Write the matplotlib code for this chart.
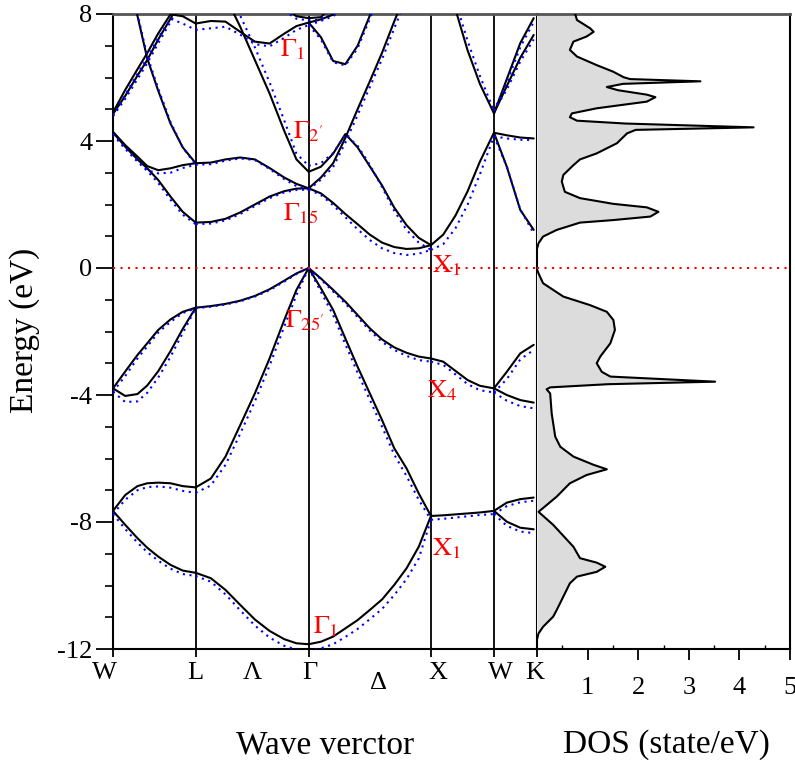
import numpy as np
import matplotlib.pyplot as plt
from matplotlib.ticker import MultipleLocator, FixedLocator

plt.rcParams['font.family'] = ['Liberation Serif', 'DejaVu Serif']
plt.rcParams['mathtext.fontset'] = 'stix'

# high symmetry points along the path W-L-G-X-W-K
sym_k = [0.0, 0.676, 1.60, 2.60, 3.115, 3.467]

# ---- band energies (eV), solid = black, dot = blue dotted ----
k_wl = [0.0, 0.10, 0.20, 0.28, 0.37, 0.47, 0.57, 0.676]
wl_solid = [
    [-7.65, -8.09, -8.51, -8.81, -9.09, -9.35, -9.53, -9.60],
    [-7.65, -7.15, -6.87, -6.78, -6.76, -6.78, -6.87, -6.91],
    [-3.79, -3.26, -2.74, -2.37, -1.95, -1.62, -1.38, -1.25],
    [-3.79, -4.03, -3.97, -3.70, -3.25, -2.62, -1.92, -1.25],
    [4.27, 3.82, 3.42, 3.14, 2.77, 2.25, 1.77, 1.43],
    [4.29, 3.87, 3.51, 3.21, 3.08, 3.14, 3.24, 3.30],
    [4.90, 5.61, 6.26, 6.77, 7.39, 7.99, 7.93, 7.70],
]
wl_dot = [
    [-7.75, -8.22, -8.65, -8.95, -9.22, -9.47, -9.64, -9.70],
    [-7.75, -7.30, -7.00, -6.90, -6.88, -6.92, -7.02, -7.08],
    [-3.90, -3.40, -2.85, -2.47, -2.03, -1.70, -1.42, -1.27],
    [-3.90, -4.22, -4.20, -3.93, -3.45, -2.80, -2.05, -1.27],
    [4.20, 3.75, 3.35, 3.06, 2.68, 2.15, 1.68, 1.38],
    [4.22, 3.80, 3.40, 3.08, 2.98, 3.00, 3.15, 3.25],
    [4.80, 5.45, 6.12, 6.62, 7.25, 7.85, 7.70, 7.50],
]

k_lg = [0.676, 0.80, 0.92, 1.04, 1.16, 1.28, 1.40, 1.50, 1.60]
lg_solid = [
    [-9.60, -9.77, -10.14, -10.61, -11.07, -11.43, -11.69, -11.82, -11.85],
    [-6.91, -6.63, -5.94, -4.95, -3.95, -2.85, -1.64, -0.69, 0.0],
    [-1.25, -1.20, -1.13, -1.03, -0.88, -0.67, -0.40, -0.17, 0.0],
    [1.43, 1.45, 1.55, 1.75, 2.00, 2.25, 2.42, 2.50, 2.51],
    [3.30, 3.32, 3.42, 3.48, 3.42, 3.15, 2.85, 2.65, 2.51],
    [7.70, 7.78, 7.76, 7.44, 7.13, 7.07, 7.38, 7.62, 7.73],
]
lg_dot = [
    [-9.70, -9.88, -10.28, -10.78, -11.26, -11.64, -11.90, -12.02, -12.05],
    [-7.08, -6.85, -6.20, -5.22, -4.20, -3.08, -1.85, -0.85, 0.0],
    [-1.27, -1.22, -1.15, -1.05, -0.90, -0.70, -0.43, -0.19, 0.0],
    [1.38, 1.40, 1.50, 1.70, 1.95, 2.20, 2.38, 2.46, 2.47],
    [3.25, 3.27, 3.38, 3.45, 3.40, 3.12, 2.80, 2.58, 2.47],
    [7.50, 7.55, 7.60, 7.35, 7.05, 6.98, 7.25, 7.50, 7.65],
]

k_gx = [1.60, 1.70, 1.80, 1.90, 2.00, 2.10, 2.20, 2.30, 2.40, 2.50, 2.60]
gx_solid = [
    [-11.85, -11.77, -11.61, -11.35, -11.09, -10.77, -10.44, -9.98, -9.46, -8.78, -7.81],
    [0.0, -0.64, -1.32, -2.22, -3.11, -3.95, -4.79, -5.68, -6.31, -7.10, -7.81],
    [0.0, -0.33, -0.69, -1.06, -1.48, -1.90, -2.25, -2.50, -2.67, -2.79, -2.85],
    [2.51, 2.35, 2.05, 1.70, 1.38, 1.05, 0.80, 0.66, 0.60, 0.62, 0.72],
    [3.03, 3.19, 3.60, 4.22, 3.80, 3.20, 2.60, 1.90, 1.35, 0.95, 0.72],
]
gx_dot = [
    [-12.05, -11.98, -11.85, -11.62, -11.37, -11.06, -10.74, -10.30, -9.80, -9.15, -7.93],
    [0.0, -0.75, -1.48, -2.40, -3.30, -4.15, -5.00, -5.88, -6.55, -7.30, -7.93],
    [0.0, -0.36, -0.74, -1.12, -1.55, -1.97, -2.33, -2.58, -2.77, -2.90, -2.95],
    [2.47, 2.30, 1.98, 1.60, 1.22, 0.88, 0.62, 0.47, 0.41, 0.45, 0.57],
    [3.22, 3.30, 3.62, 4.20, 3.85, 3.25, 2.55, 1.80, 1.20, 0.80, 0.57],
]

k_xw = [2.60, 2.70, 2.80, 2.90, 3.00, 3.115]
xw_solid = [
    [-7.81, -7.79, -7.76, -7.73, -7.70, -7.65],
    [-2.85, -2.95, -3.24, -3.53, -3.71, -3.79],
    [0.72, 1.05, 1.65, 2.42, 3.35, 4.26],
]
xw_dot = [
    [-7.93, -7.90, -7.86, -7.82, -7.78, -7.75],
    [-2.95, -3.05, -3.35, -3.66, -3.85, -3.92],
    [0.57, 0.75, 1.25, 2.00, 2.95, 4.15],
]

k_wk = [3.115, 3.22, 3.33, 3.44]
wk_solid = [
    [-7.65, -7.99, -8.18, -8.23],
    [-7.65, -7.39, -7.28, -7.23],
    [-3.79, -3.27, -2.69, -2.42],
    [-3.79, -4.00, -4.16, -4.24],
    [4.26, 3.19, 1.83, 1.20],
    [4.26, 4.18, 4.11, 4.08],
    [4.87, 5.95, 7.08, 7.87],
    [4.87, 5.73, 6.62, 7.34],
]
wk_dot = [
    [-7.75, -8.12, -8.30, -8.35],
    [-7.75, -7.50, -7.38, -7.33],
    [-3.92, -3.50, -2.88, -2.58],
    [-3.92, -4.18, -4.35, -4.42],
    [4.15, 3.20, 1.85, 1.09],
    [4.15, 4.08, 4.04, 4.03],
    [4.95, 5.85, 6.95, 7.75],
    [4.95, 5.62, 6.50, 7.20],
]

# pieces of bands that leave the window at the top
k_d = [0.17, 0.20, 0.28, 0.37, 0.47, 0.57, 0.676]
d_solid = [8.40, 7.94, 6.60, 5.58, 4.55, 3.80, 3.30]
d_dot = [8.45, 8.00, 6.68, 5.65, 4.60, 3.80, 3.25]
k_p2 = [0.0, 0.10, 0.20, 0.28, 0.37, 0.47, 0.57]
p2_solid = [4.85, 5.42, 6.06, 6.55, 7.20, 7.85, 8.60]
p2_dot = [4.78, 5.33, 5.95, 6.45, 7.08, 7.75, 8.50]
k_s = [0.92, 1.04, 1.16, 1.28, 1.40, 1.50, 1.60]
s_solid = [8.55, 7.60, 6.55, 5.50, 4.32, 3.42, 3.03]
s_dot = [8.70, 7.95, 6.95, 5.85, 4.65, 3.60, 3.22]
k_t = [1.40, 1.50, 1.60, 1.70, 1.80]
t_solid = [8.20, 7.93, 7.87, 7.90, 8.30]
t_dot = [8.10, 7.85, 7.80, 7.83, 8.20]
k_g1 = [1.60, 1.70, 1.80, 1.90]
g1_solid = [7.73, 7.83, 7.98, 8.20]
g1_dot = [7.65, 7.78, 7.93, 8.20]
k_g2 = [1.60, 1.70, 1.80, 1.90, 2.00, 2.10, 2.20]
g2_solid = [7.73, 7.27, 6.52, 6.42, 7.00, 7.95, 8.90]
g2_dot = [7.65, 7.20, 6.48, 6.38, 6.92, 7.85, 8.80]
k_s2 = [1.60, 1.70, 1.80, 1.90, 2.00, 2.10, 2.20, 2.30, 2.40]
s2_solid = [2.51, 2.85, 3.30, 4.10, 5.00, 5.88, 6.78, 7.77, 8.70]
s2_dot = [2.47, 2.78, 3.18, 3.95, 4.82, 5.70, 6.58, 7.55, 8.50]
k_v = [2.70, 2.80, 2.90, 3.00, 3.115]
v_solid = [9.50, 8.15, 6.85, 5.80, 4.87]
v_dot = [9.70, 8.40, 7.15, 6.05, 4.95]

# ---- density of states ----
dos_e = [8.02, 7.81, 7.55, 7.44, 7.29, 7.13, 6.87, 6.66, 6.39, 6.18, 6.01, 5.95,
         5.88, 5.80, 5.70, 5.60, 5.46, 5.38, 5.24, 5.03, 4.87, 4.75, 4.64, 4.55,
         4.43, 4.35, 4.24, 3.93, 3.61, 3.42, 3.24, 2.93, 2.72, 2.40, 2.20, 2.02,
         1.91, 1.77, 1.62, 1.51, 1.43, 1.20, 0.99, 0.78, 0.60, -0.05, -0.17, -0.48,
         -0.90, -1.17, -1.38, -1.64, -1.95, -2.37, -2.79, -3.00, -3.27, -3.42, -3.58,
         -3.66, -3.76, -3.82, -3.95, -4.58, -5.31, -5.63, -5.94, -6.20, -6.34, -6.52,
         -6.78, -7.20, -7.68, -8.09, -8.78, -9.14, -9.28, -9.41, -9.57, -9.72, -9.93,
         -10.35, -10.77, -10.98, -11.30, -11.51, -11.70, -12.0]
dos_v = [0.75, 0.79, 1.05, 1.12, 0.98, 0.72, 0.65, 0.79, 1.18, 1.51, 1.71, 1.84,
         3.23, 1.70, 1.38, 1.60, 2.17, 2.34, 2.17, 1.18, 0.69, 0.65, 0.79, 1.75,
         4.28, 1.95, 1.78, 1.58, 1.18, 0.85, 0.72, 0.52, 0.49, 0.55, 0.85, 1.51,
         2.17, 2.40, 2.24, 1.51, 0.85, 0.39, 0.12, 0.03, 0.0, 0.0, 0.03, 0.12,
         0.52, 1.05, 1.38, 1.51, 1.54, 1.45, 1.25, 1.18, 1.28, 1.45, 3.52,
         1.40, 0.26, 0.19, 0.26, 0.29, 0.36, 0.46, 0.72, 1.12, 1.38, 0.98,
         0.65, 0.39, 0.03, 0.32, 0.72, 0.85, 1.18, 1.35, 1.18, 0.79, 0.65,
         0.52, 0.39, 0.32, 0.12, 0.03, 0.0, 0.0]

# ---- figure ----
W, H = 795, 764
fig = plt.figure(figsize=(W / 100, H / 100), dpi=100)
ax = fig.add_axes([113 / W, 1 - 649 / H, 424 / W, 635 / H])
ax2 = fig.add_axes([537 / W, 1 - 649 / H, 253 / W, 635 / H])

solid_kw = dict(color='black', lw=1.5, zorder=3, solid_capstyle='round')
dot_kw = dict(color='blue', lw=1.5, linestyle=(0, (1, 2.2)), zorder=4)

segments = [(k_wl, wl_solid, wl_dot), (k_lg, lg_solid, lg_dot), (k_gx, gx_solid, gx_dot),
            (k_xw, xw_solid, xw_dot), (k_wk, wk_solid, wk_dot)]
for k, sol, dot in segments:
    for e in sol:
        ax.plot(k, e, **solid_kw)
    for e in dot:
        ax.plot(k, e, **dot_kw)

pieces = [(k_d, d_solid, d_dot), (k_p2, p2_solid, p2_dot), (k_s, s_solid, s_dot),
          (k_t, t_solid, t_dot), (k_g1, g1_solid, g1_dot), (k_g2, g2_solid, g2_dot),
          (k_s2, s2_solid, s2_dot), (k_v, v_solid, v_dot)]
for k, sol, dot in pieces:
    ax.plot(k, sol, **solid_kw)
    ax.plot(k, dot, **dot_kw)

for k in sym_k[1:-1]:
    ax.axvline(k, color='black', lw=1.3, zorder=2)

red_kw = dict(color='red', lw=1.5, linestyle=(0, (1, 2.6)), zorder=5)
ax.axhline(0, **red_kw)
ax2.axhline(0, **red_kw)

ax.set_xlim(sym_k[0], sym_k[-1])
ax.set_ylim(-12, 8)
ax.yaxis.set_major_locator(FixedLocator([-12, -8, -4, 0, 4, 8]))
ax.yaxis.set_minor_locator(MultipleLocator(1))
ax.set_yticklabels(['-12', '-8', '-4', '0', '4', '8'])
ax.tick_params(axis='y', which='major', direction='out', length=12, width=1.3,
               labelsize=19, pad=3)
ax.tick_params(axis='y', which='minor', direction='out', length=6, width=1.2)
ax.set_xticks(sym_k)
ax.set_xticklabels([])
ax.tick_params(axis='x', which='major', direction='out', length=6, width=1.3)

trans = ax.get_xaxis_transform()
tick_names = ['W', 'L', 'Λ', 'Γ', 'Δ', 'X', 'W', 'K']
tick_pos = [-0.07, 0.673, 1.139, 1.613, 2.169, 2.66, 3.167, 3.445]
for name, kx in zip(tick_names, tick_pos):
    yy = -0.036 if name == 'Δ' else -0.02
    ax.text(kx, yy, name, transform=trans, ha='center', va='top', fontsize=19)

red_labels = [(1.368, 6.65, r'$\Gamma_1$'), (1.474, 4.09, r"$\Gamma_{2'}$"),
              (1.392, 1.51, r'$\Gamma_{15}$'), (2.611, -0.13, r'$\mathrm{X}_1$'),
              (1.409, -1.86, r"$\Gamma_{25'}$"), (2.570, -4.06, r'$\mathrm{X}_4$'),
              (2.611, -9.04, r'$\mathrm{X}_1$'), (1.638, -11.50, r'$\Gamma_1$')]
for kx, ey, s in red_labels:
    ax.text(kx, ey, s, color='red', fontsize=19, ha='left', va='baseline', zorder=6)

ax2.fill_betweenx(dos_e, 0, dos_v, color='#dcdcdc', lw=0, zorder=1)
ax2.plot(dos_v, dos_e, color='black', lw=1.5, zorder=3)
ax2.set_xlim(0, 5)
ax2.set_ylim(-12, 8)
ax2.set_yticks([])
ax2.set_xticks([1, 2, 3, 4, 5])
ax2.xaxis.set_minor_locator(FixedLocator([0.5, 1.5, 2.5, 3.5, 4.5]))
ax2.tick_params(axis='x', which='major', direction='out', length=8, width=1.3,
                labelsize=19, pad=12)
ax2.tick_params(axis='x', which='minor', direction='in', length=3, width=1.0)

for a in (ax, ax2):
    for sp in a.spines.values():
        sp.set_linewidth(1.5)
        sp.set_color('black')
    a.spines['top'].set_color('#555555')
    a.spines['top'].set_linewidth(2)
ax2.spines['left'].set_visible(False)

fig.text(25 / W, 1 - 330 / H, 'Energy (eV)', rotation=90, ha='center', va='center', fontsize=24)
fig.text(325 / W, 1 - 745 / H, 'Wave verctor', ha='center', va='center', fontsize=24)
fig.text(666 / W, 1 - 745 / H, 'DOS (state/eV)', ha='center', va='center', fontsize=24)

fig.savefig('out.png', dpi=100)
